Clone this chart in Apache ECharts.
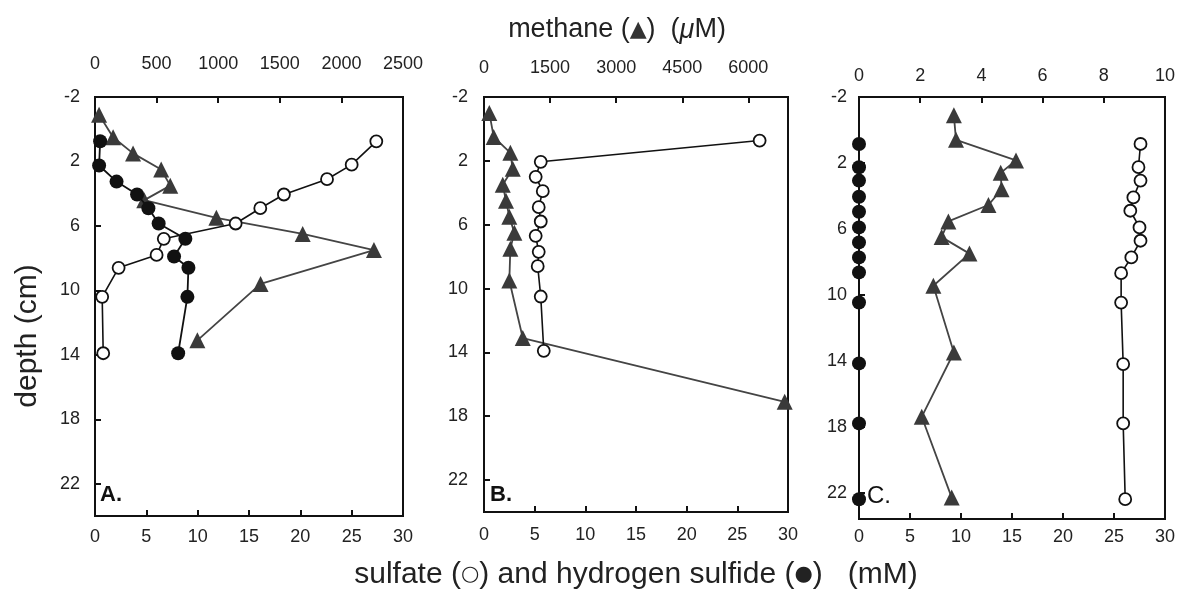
<!DOCTYPE html>
<html>
<head>
<meta charset="utf-8">
<script src="https://cdn.jsdelivr.net/npm/echarts@6/dist/echarts.min.js"></script>
<style>
html, body { margin: 0; padding: 0; background: #fff; }
#main { width: 1178px; height: 596px; }
</style>
</head>
<body>
<div id="main"></div>
<script>
// panel A
var ch4DepthA = [-0.9, 0.5, 1.5, 2.5, 3.5, 4.4, 5.5, 6.5, 7.5, 9.6, 13.1];
var ch4A = [33, 147, 309, 537, 611, 400, 985, 1686, 2264, 1344, 831];
var so4DepthA = [0.75, 2.2, 3.1, 4.05, 4.9, 5.85, 6.8, 7.8, 8.6, 10.4, 13.9];
var so4A = [27.4, 25.0, 22.6, 18.4, 16.1, 13.7, 6.7, 6.0, 2.3, 0.7, 0.8];
var h2sDepthA = [0.75, 2.25, 3.25, 4.05, 4.9, 5.85, 6.8, 7.9, 8.6, 10.4, 13.9];
var h2sA = [0.5, 0.4, 2.1, 4.1, 5.2, 6.2, 8.8, 7.7, 9.1, 9.0, 8.1];

// panel B
var ch4DepthB = [-1, 0.5, 1.5, 2.5, 3.5, 4.5, 5.5, 6.5, 7.5, 9.5, 13.1, 17.1];
var ch4B = [121, 220, 598, 652, 425, 500, 575, 689, 598, 575, 880, 6825];
var so4DepthB = [0.73, 2.06, 3.0, 3.9, 4.9, 5.8, 6.7, 7.7, 8.6, 10.5, 13.9];
var so4B = [27.2, 5.6, 5.1, 5.8, 5.4, 5.6, 5.1, 5.4, 5.3, 5.6, 5.9];

// panel C
var ch4DepthC = [-0.9, 0.6, 1.85, 2.6, 3.6, 4.55, 5.55, 6.5, 7.5, 9.45, 13.5, 17.4, 22.3];
var ch4C = [3.10, 3.17, 5.13, 4.63, 4.66, 4.23, 2.92, 2.70, 3.61, 2.43, 3.10, 2.05, 3.03];
var so4DepthC = [0.85, 2.26, 3.07, 4.09, 4.9, 5.91, 6.72, 7.73, 8.69, 10.47, 14.2, 17.8, 22.4];
var so4C = [27.6, 27.4, 27.6, 26.9, 26.6, 27.5, 27.6, 26.7, 25.7, 25.7, 25.9, 25.9, 26.1];
var h2sDepthC = [0.85, 2.26, 3.07, 4.05, 4.96, 5.91, 6.82, 7.73, 8.64, 10.47, 14.16, 17.8, 22.4];
var h2sC = [0, 0, 0, 0, 0, 0, 0, 0, 0, 0, 0, 0, 0];

// axis ranges (top methane axis differs per panel)
var ch4Max = [2500, 6900, 10];
var ch4Step = [500, 1500, 2];
var depthMax = [24, 24, 23.6];

var FONT = 'Liberation Sans, Arial, sans-serif';
var grids = [
    {left: 95, top: 97, width: 308, height: 419},
    {left: 484, top: 97, width: 304, height: 415},
    {left: 859, top: 97, width: 306, height: 422}
];
var topMargin = [24, 20, 12];
var bottomMargin = [12, 14, 9];
var leftMargin = [15, 16, 12];

function pairs(xs, ys){
    let out = [];
    for(let i = 0; i < xs.length; i++){
        out.push([xs[i], ys[i]]);
    }
    return out;
}

function tickLabel(){
    return {color: '#222', fontSize: 18, fontFamily: FONT, formatter: function(v){ return String(v); }};
}
function inTicks(){
    return {show: true, inside: true, length: 6, lineStyle: {color: '#111', width: 2}};
}
function boxLine(){
    return {show: true, onZero: false, lineStyle: {color: '#111', width: 2}};
}

var xAxes = [], yAxes = [];
for(let i = 0; i < 3; i++){
    // bottom: sulfate / sulfide (mM)
    xAxes.push({
        type: 'value', gridIndex: i, position: 'bottom',
        min: 0, max: 30, interval: 5,
        axisLine: boxLine(),
        axisTick: inTicks(),
        axisLabel: Object.assign(tickLabel(), {margin: bottomMargin[i]}),
        splitLine: {show: false}
    });
    // top: methane
    xAxes.push({
        type: 'value', gridIndex: i, position: 'top',
        min: 0, max: ch4Max[i], interval: ch4Step[i],
        axisLine: boxLine(),
        axisTick: inTicks(),
        axisLabel: Object.assign(tickLabel(), {margin: topMargin[i], showMaxLabel: i != 1}),
        splitLine: {show: false}
    });
    yAxes.push({
        type: 'value', gridIndex: i, inverse: true,
        min: -2, max: depthMax[i], interval: 4,
        axisLine: boxLine(),
        axisTick: inTicks(),
        axisLabel: Object.assign(tickLabel(), {margin: leftMargin[i], showMaxLabel: false}),
        splitLine: {show: false}
    });
}

function methane(i, xs, ys){
    return {
        type: 'line', xAxisIndex: i * 2 + 1, yAxisIndex: i,
        data: pairs(xs, ys), clip: false,
        symbol: 'triangle', symbolSize: 16,
        itemStyle: {color: '#3a3a3a'},
        lineStyle: {color: '#444', width: 1.8},
        z: 2
    };
}
function sulfate(i, xs, ys){
    return {
        type: 'line', xAxisIndex: i * 2, yAxisIndex: i,
        data: pairs(xs, ys), clip: false,
        symbol: 'circle', symbolSize: 12, showAllSymbol: true,
        itemStyle: {color: '#fff', borderColor: '#111', borderWidth: 1.8},
        lineStyle: {color: '#111', width: 1.6},
        z: 3
    };
}
function sulfide(i, xs, ys){
    return {
        type: 'line', xAxisIndex: i * 2, yAxisIndex: i,
        data: pairs(xs, ys), clip: false,
        symbol: 'circle', symbolSize: 14,
        itemStyle: {color: '#111', borderColor: '#111', borderWidth: 0},
        lineStyle: {color: '#111', width: 1.8},
        z: 4
    };
}

var series = [
    methane(0, ch4A, ch4DepthA),
    sulfate(0, so4A, so4DepthA),
    sulfide(0, h2sA, h2sDepthA),
    methane(1, ch4B, ch4DepthB),
    sulfate(1, so4B, so4DepthB),
    methane(2, ch4C, ch4DepthC),
    sulfate(2, so4C, so4DepthC),
    sulfide(2, h2sC, h2sDepthC)
];

var myChart = echarts.init(document.getElementById('main'));
var option = {
    backgroundColor: '#fff',
    animation: false,
    grid: grids.map(function(g){
        return Object.assign({show: true, borderColor: '#111', borderWidth: 2, backgroundColor: 'transparent'}, g);
    }),
    xAxis: xAxes,
    yAxis: yAxes,
    series: series,
    graphic: [
        {
            type: 'text', x: 617, y: 30,
            style: {
                text: '{a|methane (}{t|▲}{a|)  (}{i|μ}{a|M)}',
                align: 'center', verticalAlign: 'middle',
                rich: {
                    a: {fontSize: 27, fontFamily: FONT, fill: '#222'},
                    t: {fontSize: 22, fontFamily: 'DejaVu Sans', fill: '#333'},
                    i: {fontSize: 27, fontFamily: FONT, fontStyle: 'italic', fill: '#222'}
                }
            }
        },
        {
            type: 'text', x: 636, y: 575,
            style: {
                text: '{a|sulfate (}{o|○}{a|) and hydrogen sulfide (}{o|●}{a|)   (mM)}',
                align: 'center', verticalAlign: 'middle',
                rich: {
                    a: {fontSize: 30, fontFamily: FONT, fill: '#222'},
                    o: {fontSize: 21, fontFamily: 'DejaVu Sans', fill: '#222'}
                }
            }
        },
        {
            type: 'text', x: 28, y: 336, rotation: Math.PI / 2,
            style: {
                text: 'depth (cm)', align: 'center', verticalAlign: 'middle',
                fontSize: 30, fontFamily: FONT, fill: '#222'
            }
        },
        {type: 'text', x: 100, y: 495, style: {text: 'A.', fontSize: 22, fontWeight: 'bold', fontFamily: FONT, fill: '#111', verticalAlign: 'middle'}},
        {type: 'text', x: 490, y: 495, style: {text: 'B.', fontSize: 22, fontWeight: 'bold', fontFamily: FONT, fill: '#111', verticalAlign: 'middle'}},
        {type: 'text', x: 867, y: 496, style: {text: 'C.', fontSize: 24, fontFamily: FONT, fill: '#111', verticalAlign: 'middle'}}
    ]
};
myChart.setOption(option);
</script>
</body>
</html>
